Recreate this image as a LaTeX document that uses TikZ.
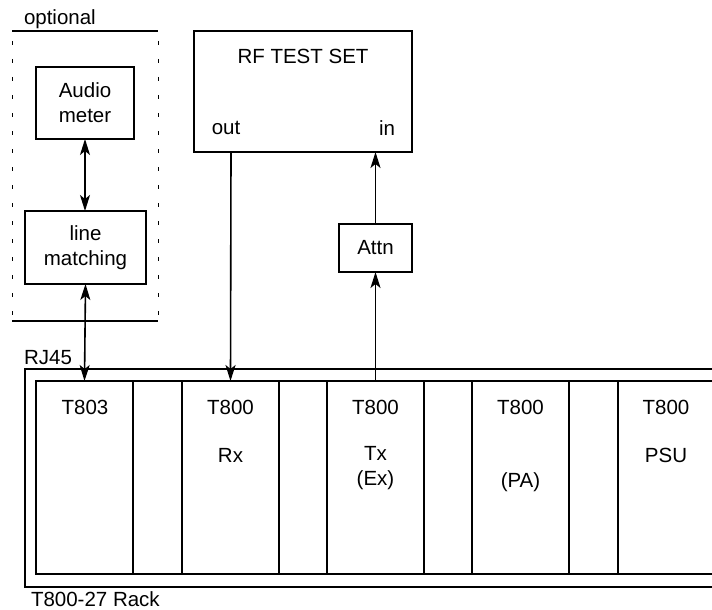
\documentclass[tikz,border=0pt]{standalone}
\usepackage{fontspec}
\setmainfont{Liberation Sans}
\usetikzlibrary{arrows.meta}
\begin{document}
\begin{tikzpicture}[x=1pt,y=-1pt,
  every node/.style={font=\fontsize{20.5}{25}\selectfont, inner sep=0pt, outer sep=0pt},
  box/.style={draw, line width=1.6pt, rectangle, anchor=north west},
  module/.style={draw, line width=1.6pt, rectangle, anchor=north west, minimum width=97pt, minimum height=193pt},
  tip/.tip={Stealth[length=16pt,width=10pt,inset=4pt]},
  conn/.style={line width=1.6pt, -tip},
  bconn/.style={line width=1.6pt, tip-tip},
  txt/.style={align=center}]
\useasboundingbox (0,0) rectangle (712,610);
\begin{scope}
\clip (0,0) rectangle (712,610);
% optional region
\draw[line width=1.6pt] (12,31) -- (158,31);
\draw[line width=1.6pt] (12,321) -- (158,321);
\draw[line width=1pt, dash pattern=on 4pt off 14pt, dash phase=-10pt] (12,31) -- (12,321);
\draw[line width=1pt, dash pattern=on 4pt off 14pt, dash phase=-10pt] (158,31) -- (158,321);
\node[anchor=west] (opt) at (24,19) {optional};
\node[box, minimum width=98pt, minimum height=72pt] (am) at (36,67) {};
\node[txt] (amt) at (am.center) {Audio\\meter};
\node[box, minimum width=121pt, minimum height=73pt] (lm) at (25,211) {};
\node[txt] (lmt) at (lm.center) {line\\matching};
% RF test set
\node[box, minimum width=218pt, minimum height=121pt] (rf) at (194,31) {};
\node (rft) at (303,56) {RF TEST SET};
\node (outt) at (226,128) {out};
\node (int) at (387,128) {in};
\coordinate (rfout) at (231,152);
\node[box, minimum width=73pt, minimum height=48pt] (attn) at (339,224) {};
\node (attnt) at (attn.center) {Attn};
% rack
\draw[line width=1.6pt] (25,369) rectangle (730,587);
\draw[line width=1.6pt] (36,381) rectangle (730,574);
\node (rj) at (48,358) {RJ45};
\node[anchor=base west] (rack) at (31,606) {T800-27 Rack};
\node[module] (t803) at (36,381) {};
\node[module] (rx) at (182,381) {};
\node[module] (tx) at (327,381) {};
\node[module] (pa) at (472,381) {};
\node[module, minimum width=120pt] (psu) at (618,381) {};
\node (t803t) at (85,407) {T803};
\node (rxt1) at (230.5,407) {T800};
\node (rxt2) at (230.5,455) {Rx};
\node (txt1) at (375.5,407) {T800};
\node[txt] (txt2) at (375.5,468) {Tx\\(Ex)};
\node (pat1) at (520.5,407) {T800};
\node (pat2) at (520.5,482) {(PA)};
\node (psut1) at (666,407) {T800};
\node (psut2) at (666,455) {PSU};
\end{scope}
% connectors
\draw[bconn] (am.south) -- (am.south |- lm.north);
\draw[bconn] (lm.south) -- (t803.north);
\draw[conn] (rfout) -- (rx.north);
\draw[conn] (tx.north) -- (attn.south);
\draw[conn] (attn.north) -- (attn.north |- rf.south);
\end{tikzpicture}
\end{document}
